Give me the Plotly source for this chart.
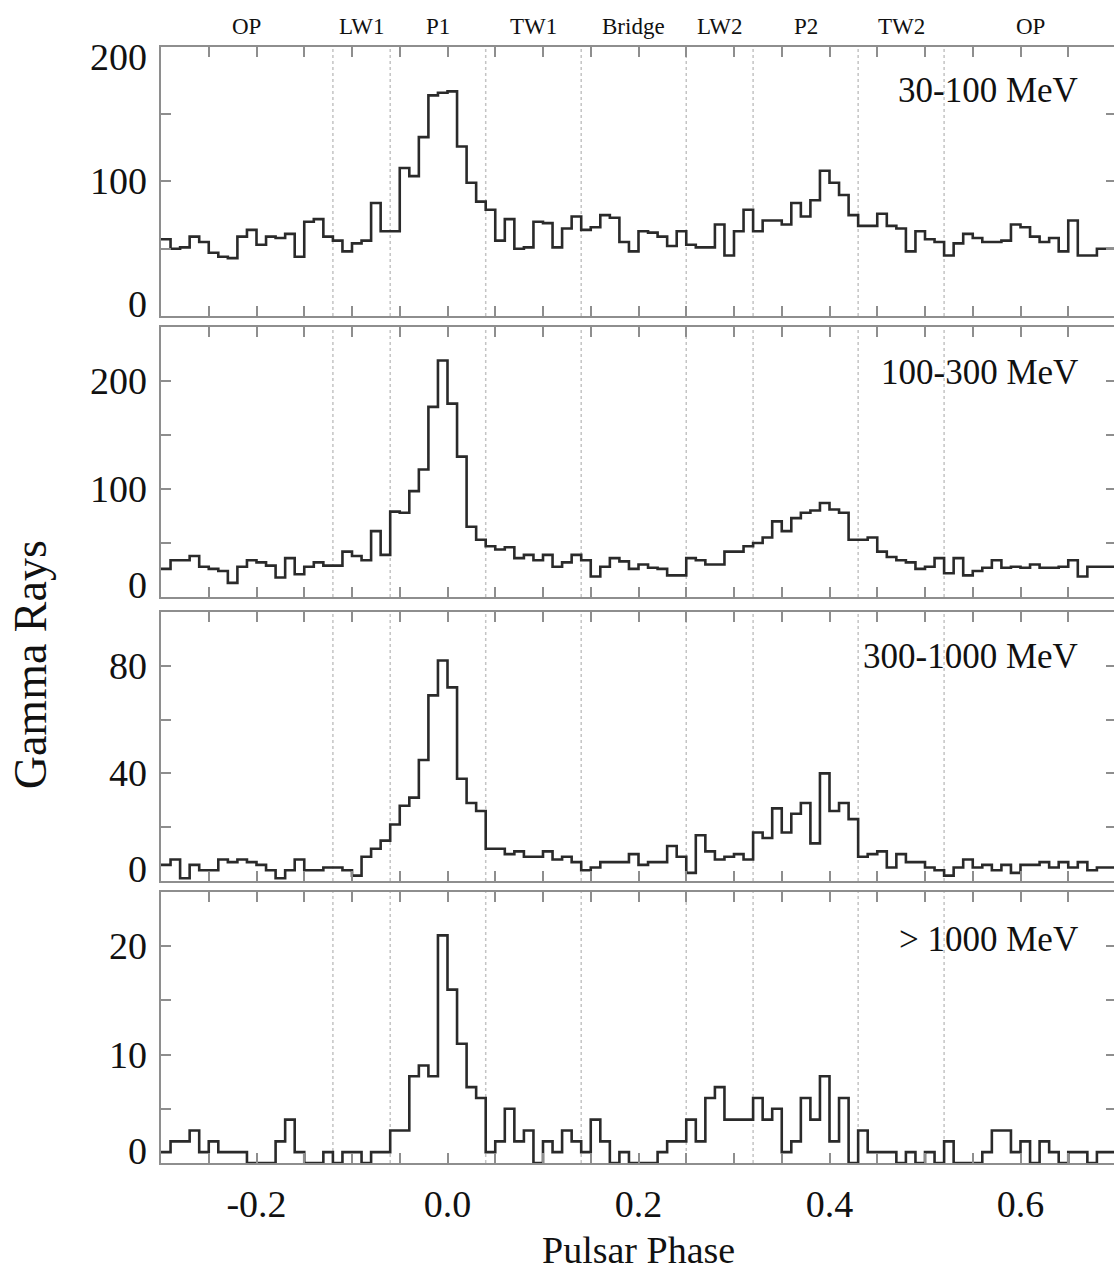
import numpy as np
import plotly.graph_objects as go
from plotly.subplots import make_subplots

# ---------------- data ----------------
# phase bin edges: 100 bins of width 0.01 from -0.30 to 0.70
phase_edges = np.round(np.arange(-0.30, 0.7001, 0.01), 2)

counts_30_100 = [57, 50, 51, 59, 55, 47, 44, 43, 59, 64,
                 53, 59, 58, 61, 44, 70, 72, 59, 56, 48,
                 54, 56, 84, 63, 63, 110, 104, 133, 164, 166,
                 167, 126, 99, 85, 79, 56, 72, 50, 51, 70,
                 69, 51, 65, 74, 64, 66, 75, 73, 55, 48,
                 63, 62, 59, 52, 63, 53, 51, 51, 68, 45,
                 63, 79, 63, 71, 71, 68, 84, 74, 86, 108,
                 99, 90, 75, 67, 67, 76, 67, 65, 48, 63,
                 57, 55, 45, 54, 61, 58, 55, 55, 56, 68,
                 66, 59, 55, 58, 48, 71, 45, 45, 50, 50]

counts_100_300 = [26, 34, 34, 38, 28, 26, 24, 13, 28, 34,
                  32, 29, 18, 36, 21, 28, 32, 29, 29, 42,
                  38, 34, 61, 39, 79, 78, 98, 118, 176, 219,
                  179, 130, 65, 53, 47, 44, 46, 36, 39, 34,
                  39, 28, 32, 39, 34, 19, 28, 36, 33, 26,
                  30, 27, 26, 20, 20, 36, 34, 30, 30, 42,
                  42, 47, 50, 55, 70, 61, 73, 78, 80, 87,
                  81, 78, 53, 53, 55, 42, 37, 34, 32, 26,
                  28, 36, 22, 36, 20, 24, 27, 34, 27, 28,
                  27, 30, 27, 27, 28, 34, 19, 28, 28, 28]

counts_300_1000 = [6, 8, 1, 6, 4, 4, 8, 7, 8, 7,
                   6, 4, 1, 4, 8, 4, 4, 5, 5, 4,
                   2, 9, 12, 15, 21, 28, 31, 45, 69, 82,
                   72, 38, 29, 26, 12, 12, 10, 11, 9, 9,
                   11, 8, 9, 7, 4, 5, 7, 7, 7, 10,
                   6, 7, 7, 13, 9, 3, 17, 11, 8, 9,
                   10, 8, 18, 16, 27, 18, 25, 29, 14, 40,
                   26, 29, 23, 9, 10, 11, 5, 10, 7, 7,
                   5, 4, 2, 5, 8, 5, 6, 4, 6, 3,
                   6, 6, 7, 5, 7, 5, 7, 4, 5, 5]

counts_gt_1000 = [1, 2, 2, 3, 1, 2, 1, 1, 1, 0,
                  0, 0, 2, 4, 1, 0, 0, 1, 0, 1,
                  1, 0, 1, 1, 3, 3, 8, 9, 8, 21,
                  16, 11, 7, 6, 1, 2, 5, 2, 3, 0,
                  2, 1, 3, 2, 1, 4, 2, 0, 1, 0,
                  0, 0, 1, 2, 2, 4, 2, 6, 7, 4,
                  4, 4, 6, 4, 5, 1, 2, 6, 4, 8,
                  2, 6, 0, 3, 1, 1, 1, 0, 1, 0,
                  1, 0, 2, 0, 0, 0, 1, 3, 3, 1,
                  2, 0, 2, 1, 0, 1, 1, 0, 1, 1]

panel_labels = ["30-100 MeV", "100-300 MeV", "300-1000 MeV", "> 1000 MeV"]

# phase-region boundaries and names
region_bounds = [-0.30, -0.12, -0.06, 0.04, 0.14, 0.25, 0.32, 0.43, 0.52, 0.70]
region_names = ["OP", "LW1", "P1", "TW1", "Bridge", "LW2", "P2", "TW2", "OP"]

x_tick_vals = [-0.2, 0.0, 0.2, 0.4, 0.6]
x_tick_text = ["-0.2", "0.0", "0.2", "0.4", "0.6"]

y_tick_vals = [[0, 100, 200], [0, 100, 200], [0, 40, 80], [0, 10, 20]]

# ---------------- style / layout ----------------
# the original figure is slightly cropped on the right: the canvas is a few
# pixels wider than the 1114 px window, so the right frame falls just outside.
W, H = 1118, 1272
FONT = "Liberation Serif"
FRAME = "#8e8e8e"
LINE = "#2a2a2a"

all_counts = [counts_30_100, counts_100_300, counts_300_1000, counts_gt_1000]
y_ranges = [[0, 200], [0, 250], [0, 100], [0, 25]]
y_dticks = [50, 50, 20, 5]
domains = [(0.7590, 1.0), (0.5072, 0.7491), (0.2527, 0.4937), (0.0, 0.2428)]
label_y = [0.84, 0.833, 0.833, 0.823]

fig = make_subplots(rows=4, cols=1, shared_xaxes=True, vertical_spacing=0.01)

for i, counts in enumerate(all_counts):
    yy = list(counts) + [counts[-1]]
    fig.add_trace(go.Scatter(x=list(phase_edges), y=yy, mode="lines",
                             line=dict(shape="hv", color=LINE, width=2.6),
                             showlegend=False, hoverinfo="skip"),
                  row=i + 1, col=1)

for i in range(4):
    n = "" if i == 0 else str(i + 1)
    fig.layout["xaxis" + n].update(
        range=[-0.3, 0.7], showline=True, linecolor=FRAME, linewidth=2,
        mirror="ticks", ticks="inside", ticklen=10, tickwidth=1.5, tickcolor=FRAME,
        tickmode="array", tickvals=x_tick_vals, ticktext=x_tick_text,
        minor=dict(tickmode="linear", tick0=0, dtick=0.05, ticks="inside",
                   ticklen=10, tickwidth=1.5, tickcolor=FRAME, showgrid=False),
        showgrid=False, zeroline=False, showticklabels=(i == 3),
        tickfont=dict(family=FONT, size=38, color="#111"),
        ticklabelstandoff=6)
    fig.layout["yaxis" + n].update(
        domain=list(domains[i]), range=y_ranges[i], showline=True,
        linecolor=FRAME, linewidth=2, mirror="ticks", ticks="inside",
        ticklen=10, tickwidth=1.5, tickcolor=FRAME, dtick=y_dticks[i], tick0=0,
        showgrid=False, zeroline=False, showticklabels=False)

    # region boundary lines
    for b in region_bounds[1:-1]:
        fig.add_shape(type="line", x0=b, x1=b, y0=0, y1=1,
                      xref="x" + n, yref="y" + n + " domain",
                      line=dict(color="#c4c4c4", width=1.5, dash="dot"),
                      layer="below")

    # energy label
    fig.add_annotation(text=panel_labels[i], xref="paper", x=0.9624,
                       xanchor="right", yref="y" + n + " domain", y=label_y[i],
                       yanchor="middle", showarrow=False,
                       font=dict(family=FONT, size=35, color="#111"))

    # y tick labels (edge labels are nudged inside the frame as in the original)
    top = y_tick_vals[i][-1]
    for v in y_tick_vals[i]:
        shift = 0
        if v == 0:
            shift = 12
        elif i == 0 and v == top:
            shift = -10
        fig.add_annotation(text=str(v), xref="paper", x=0, xanchor="right",
                           xshift=-12, yref="y" + n, y=v, yanchor="middle",
                           yshift=shift, showarrow=False,
                           font=dict(family=FONT, size=38, color="#111"))

# region names above the top panel
for j, name in enumerate(region_names):
    mid = (region_bounds[j] + region_bounds[j + 1]) / 2
    fig.add_annotation(text=name, xref="x", x=mid, yref="paper", y=1,
                       yshift=21, yanchor="middle", showarrow=False,
                       font=dict(family=FONT, size=23, color="#111"))

# axis titles
fig.add_annotation(text="Pulsar Phase", xref="paper", x=0.5, yref="paper", y=0,
                   yshift=-87, yanchor="middle", showarrow=False,
                   font=dict(family=FONT, size=38, color="#111"))
fig.add_annotation(text="Gamma Rays", xref="paper", x=0, xshift=-131,
                   yref="paper", y=0.446, textangle=-90, showarrow=False,
                   xanchor="center", yanchor="middle",
                   font=dict(family=FONT, size=46, color="#111"))

fig.update_layout(width=W, height=H, autosize=False,
                  margin=dict(l=161, r=0, t=47, b=109),
                  paper_bgcolor="white", plot_bgcolor="white",
                  showlegend=False)

fig.write_html("out.html",
               config={"displayModeBar": False},
               post_script="document.body.style.margin='0px';"
                           "document.body.style.overflow='hidden';")
